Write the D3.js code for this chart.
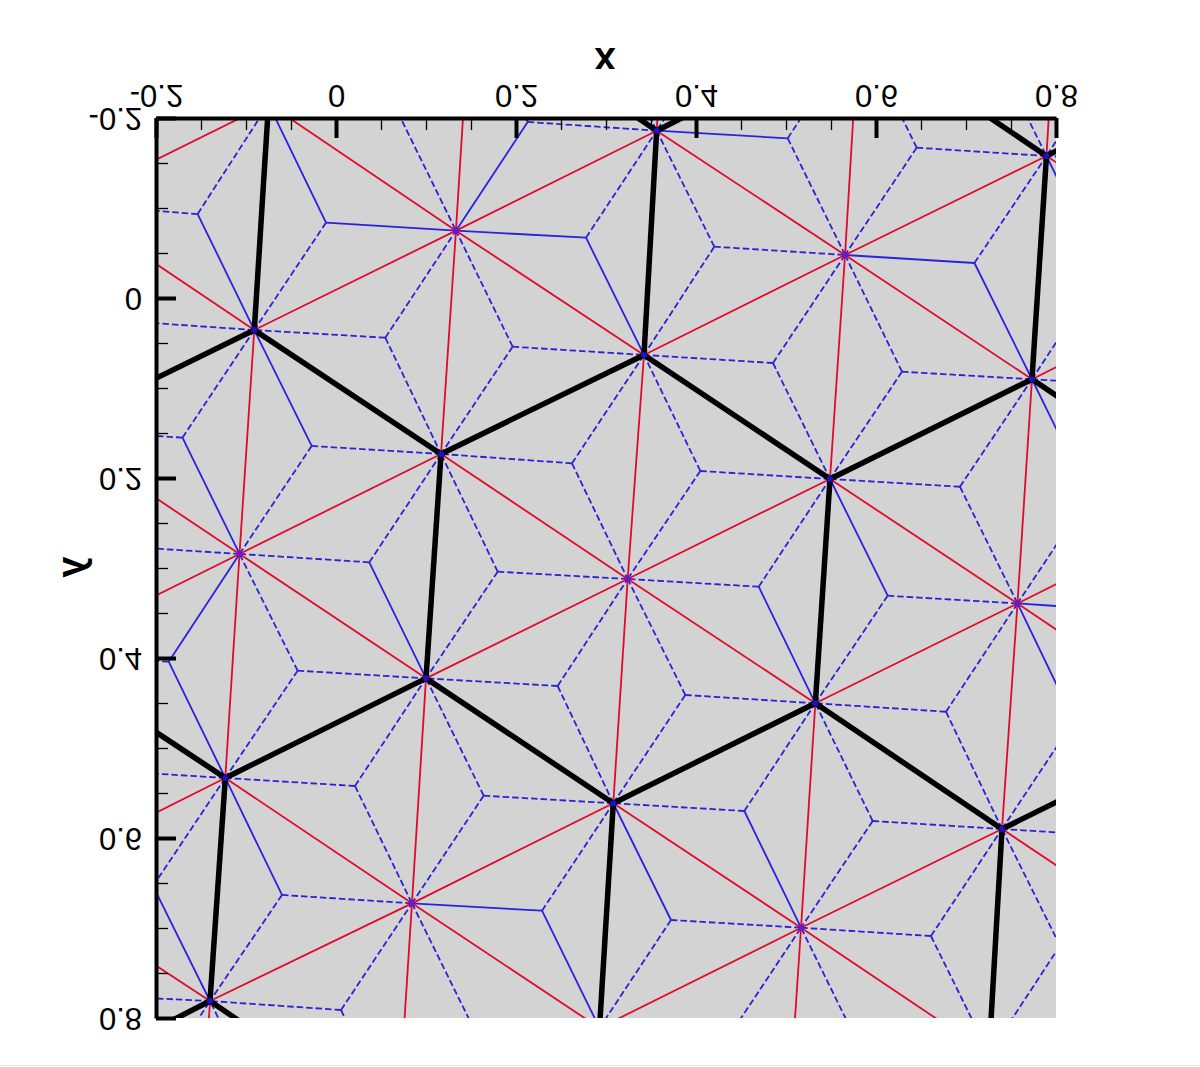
<!DOCTYPE html>
<html>
<head>
<meta charset="utf-8">
<script src="https://cdn.jsdelivr.net/npm/d3@7"></script>
<style>
  html, body { margin: 0; padding: 0; background: #fff; }
  svg { display: block; }
  text { font-family: "Liberation Sans", Arial, sans-serif; fill: #000; }
</style>
</head>
<body>
<div id="chart"></div>
<script>
var width = 1200, height = 1067;

// tick values and labels
var majorTicks = [-0.2, 0, 0.2, 0.4, 0.6, 0.8];
var tickLabels = ["-0.2", "0", "0.2", "0.4", "0.6", "0.8"];
var minorTicks = [-0.15, -0.1, -0.05, 0.05, 0.1, 0.15, 0.25, 0.3, 0.35, 0.45, 0.5, 0.55, 0.65, 0.7, 0.75];

// mesh vertices (some sit outside the frame and get clipped)
var nodes = {
  n00: [-0.0908, 0.0356], n01: [0.1333, -0.0748], n02: [0.3563, -0.1859], n03: [0.5806, -0.2989],
  n04: [0.8044, -0.41], n10: [0.1167, 0.1733], n11: [0.3422, 0.0633], n12: [0.5656, -0.0478],
  n13: [0.7894, -0.1578], n14: [1.0122, -0.2711], n20: [0.3241, 0.3122], n21: [0.5489, 0.2011],
  n22: [0.7733, 0.0903], n23: [0.9961, -0.0211], n30: [0.5326, 0.4503], n31: [0.7572, 0.3394],
  n32: [0.98, 0.2289], n40: [0.74, 0.59], n41: [0.9639, 0.4789], n50: [0.9478, 0.7289],
  n0m1: [-0.315, 0.1456], n1m1: [-0.1072, 0.2844], n2m1: [0.1, 0.4226], n3m1: [0.3081, 0.5614],
  n4m1: [0.5167, 0.6997], n5m1: [0.7256, 0.84], n1m2: [-0.3311, 0.3956], n2m2: [-0.123, 0.5333],
  n3m2: [0.0844, 0.6726], n4m2: [0.2928, 0.8111], n5m2: [0.5, 0.9511], n2m3: [-0.3472, 0.6456],
  n3m3: [-0.14, 0.7811], n4m3: [0.0683, 0.9233], n3m4: [-0.3633, 0.8956], n4m4: [-0.1556, 1.0344],
  nm10: [-0.2989, -0.1044], nm11: [-0.075, -0.2156], nm12: [0.1489, -0.3267], nm13: [0.3728, -0.4378]
};

// vertices shown in the plot, these get the small dot
var shownNodes = ["n00", "n01", "n02", "n10", "n11", "n12", "n13", "n20", "n21", "n22", "n30", "n31",
  "n40", "n1m1", "n2m1", "n3m1", "n4m1", "n2m2", "n3m2", "n3m3"];
var hubNodes = ["n01", "n12", "n1m1", "n20", "n31", "n3m2", "n4m1"];

// dual cell centres
var centres = {
  c1: [-0.1537, -0.0933], c2: [-0.0111, -0.0837], c3: [0.0548, 0.0441], c4: [0.1963, 0.0541],
  c5: [0.2778, -0.067], c6: [0.213, -0.1956], c7: [0.0689, -0.2059], c8: [-0.027, 0.1644],
  c9: [-0.1706, 0.1552], c10: [0.037, 0.2937], c11: [0.1797, 0.3041], c12: [0.2622, 0.1837],
  c13: [0.4048, 0.1922], c14: [0.4856, 0.0722], c15: [0.6289, 0.0819], c16: [0.4203, -0.057],
  c17: [0.7094, -0.0389], c18: [0.5019, -0.1774], c19: [0.6452, -0.167], c20: [0.4367, -0.3078],
  c21: [0.2933, -0.3167], c22: [0.7244, -0.2889], c23: [0.8689, -0.28], c24: [0.9322, -0.15],
  c25: [0.8522, -0.03], c26: [0.9167, 0.0989], c27: [0.8367, 0.2197], c28: [0.6933, 0.2097],
  c29: [0.613, 0.3308], c30: [0.4697, 0.3208], c31: [0.3881, 0.4411], c32: [0.2463, 0.4311],
  c33: [0.1641, 0.553], c34: [0.0211, 0.5422], c35: [-0.0426, 0.4141], c36: [-0.1859, 0.4041],
  c37: [-0.2672, 0.5244], c38: [-0.2033, 0.6533], c39: [-0.06, 0.6633], c40: [0.0056, 0.7911],
  c41: [0.1483, 0.8022], c42: [0.2289, 0.6808], c43: [0.3722, 0.6911], c44: [0.4537, 0.57],
  c45: [0.5963, 0.5811], c46: [0.6778, 0.4597], c47: [0.82, 0.4697], c48: [0.9, 0.3489],
  c49: [0.8833, 0.5989], c50: [0.8044, 0.7197], c51: [0.6611, 0.7089], c52: [0.5808, 0.83],
  c53: [0.4363, 0.8208], c54: [-0.2833, 0.7744], c55: [-0.22, 0.9033], c56: [-0.0756, 0.9133],
  c57: [-0.2511, 0.2752], c58: [-0.235, 0.0256]
};

var blackEdges = [
  ["n00", "n10"], ["n00", "nm11"], ["n00", "n0m1"], ["n10", "n11"], ["n10", "n2m1"], ["n11", "n02"],
  ["n11", "n21"], ["n21", "n22"], ["n21", "n30"], ["n22", "n13"], ["n22", "n32"], ["n30", "n40"],
  ["n30", "n3m1"], ["n2m1", "n3m1"], ["n2m1", "n2m2"], ["n2m2", "n1m2"], ["n2m2", "n3m3"],
  ["n3m3", "n3m4"], ["n3m3", "n4m3"], ["n3m1", "n4m2"], ["n40", "n5m1"], ["n40", "n41"],
  ["n02", "nm12"], ["n02", "n03"], ["n13", "n03"], ["n13", "n14"]
];

var redEdges = [
  ["n01", "n11"], ["n01", "n02"], ["n01", "nm12"], ["n01", "nm11"], ["n01", "n00"], ["n01", "n10"],
  ["n12", "n22"], ["n12", "n13"], ["n12", "n03"], ["n12", "n02"], ["n12", "n11"], ["n12", "n21"],
  ["n1m1", "n2m1"], ["n1m1", "n10"], ["n1m1", "n00"], ["n1m1", "n0m1"], ["n1m1", "n1m2"], ["n1m1", "n2m2"],
  ["n20", "n30"], ["n20", "n21"], ["n20", "n11"], ["n20", "n10"], ["n20", "n2m1"], ["n20", "n3m1"],
  ["n31", "n41"], ["n31", "n32"], ["n31", "n22"], ["n31", "n21"], ["n31", "n30"], ["n31", "n40"],
  ["n3m2", "n4m2"], ["n3m2", "n3m1"], ["n3m2", "n2m1"], ["n3m2", "n2m2"], ["n3m2", "n3m3"], ["n3m2", "n4m3"],
  ["n4m1", "n5m1"], ["n4m1", "n40"], ["n4m1", "n30"], ["n4m1", "n3m1"], ["n4m1", "n4m2"], ["n4m1", "n5m2"],
  ["nm10", "n00"], ["nm10", "nm11"], ["nm13", "n02"], ["n04", "n13"], ["n23", "n13"], ["n23", "n22"],
  ["n2m3", "n3m3"], ["n2m3", "n2m2"], ["n50", "n40"], ["n4m4", "n3m3"]
];

var solidSpokes = [
  ["c1", "n00"], ["c2", "nm11"], ["c2", "n01"], ["c5", "n01"], ["c5", "n11"], ["c6", "n01"],
  ["c8", "n00"], ["c9", "n1m1"], ["c10", "n2m1"], ["c17", "n12"], ["c17", "n22"], ["c18", "n02"],
  ["c25", "n13"], ["c27", "n22"], ["c29", "n21"], ["c30", "n30"], ["c36", "n1m1"], ["c36", "n2m2"],
  ["c38", "n3m3"], ["c39", "n2m2"], ["c42", "n3m2"], ["c42", "n4m2"], ["c43", "n3m1"], ["c44", "n4m1"],
  ["c47", "n31"], ["c48", "n31"]
];

var dashedSpokes = [
  ["c1", "nm10"], ["c1", "nm11"], ["c2", "n00"], ["c3", "n00"], ["c3", "n01"], ["c3", "n10"],
  ["c4", "n01"], ["c4", "n10"], ["c4", "n11"], ["c5", "n02"], ["c6", "n02"], ["c6", "nm12"],
  ["c7", "n01"], ["c8", "n10"], ["c8", "n1m1"], ["c9", "n00"], ["c9", "n0m1"], ["c10", "n1m1"],
  ["c10", "n10"], ["c11", "n10"], ["c11", "n2m1"], ["c11", "n20"], ["c12", "n10"], ["c12", "n11"],
  ["c12", "n20"], ["c13", "n11"], ["c13", "n21"], ["c13", "n20"], ["c14", "n11"], ["c14", "n12"],
  ["c14", "n21"], ["c15", "n12"], ["c15", "n22"], ["c15", "n21"], ["c16", "n02"], ["c16", "n11"],
  ["c16", "n12"], ["c17", "n13"], ["c18", "n12"], ["c18", "n03"], ["c19", "n12"], ["c19", "n13"],
  ["c19", "n03"], ["c20", "n02"], ["c21", "n02"], ["c22", "n13"], ["c23", "n13"], ["c24", "n13"],
  ["c25", "n22"], ["c26", "n22"], ["c27", "n31"], ["c28", "n21"], ["c28", "n22"], ["c28", "n31"],
  ["c29", "n31"], ["c29", "n30"], ["c30", "n20"], ["c30", "n21"], ["c31", "n20"], ["c31", "n30"],
  ["c31", "n3m1"], ["c32", "n2m1"], ["c32", "n20"], ["c32", "n3m1"], ["c33", "n3m1"], ["c33", "n3m2"],
  ["c33", "n2m1"], ["c34", "n2m2"], ["c34", "n2m1"], ["c34", "n3m2"], ["c35", "n1m1"], ["c35", "n2m1"],
  ["c35", "n2m2"], ["c36", "n1m2"], ["c37", "n2m2"], ["c38", "n2m2"], ["c39", "n3m2"], ["c39", "n3m3"],
  ["c40", "n3m3"], ["c40", "n3m2"], ["c40", "n4m3"], ["c41", "n3m2"], ["c42", "n3m1"], ["c43", "n4m1"],
  ["c43", "n4m2"], ["c44", "n3m1"], ["c44", "n30"], ["c45", "n40"], ["c45", "n30"], ["c45", "n4m1"],
  ["c46", "n30"], ["c46", "n31"], ["c46", "n40"], ["c47", "n40"], ["c49", "n40"], ["c50", "n40"],
  ["c50", "n5m1"], ["c51", "n4m1"], ["c51", "n40"], ["c51", "n5m1"], ["c52", "n4m1"], ["c53", "n4m1"],
  ["c54", "n3m3"], ["c55", "n3m3"], ["c56", "n3m3"], ["c57", "n1m1"], ["c58", "n00"]
];

var svg = d3.select("#chart").append("svg")
    .attr("width", width)
    .attr("height", height);

var x = d3.scaleLinear().domain([-0.2, 0.8]).range([156, 1056]);
var y = d3.scaleLinear().domain([-0.2, 0.8]).range([118, 1018]);

function pos(name) {
    return nodes[name] || centres[name];
}

// faint page edge at the bottom of the picture
svg.append("line")
    .attr("x1", 0).attr("x2", width)
    .attr("y1", 1065.5).attr("y2", 1065.5)
    .attr("stroke", "#e2e2e2");

svg.append("clipPath").attr("id", "plotClip")
    .append("rect")
    .attr("x", x(-0.2)).attr("y", y(-0.2))
    .attr("width", x(0.8) - x(-0.2)).attr("height", y(0.8) - y(-0.2));

svg.append("rect")
    .attr("x", x(-0.2)).attr("y", y(-0.2))
    .attr("width", x(0.8) - x(-0.2)).attr("height", y(0.8) - y(-0.2))
    .attr("fill", "#d3d3d3");

var plot = svg.append("g").attr("clip-path", "url(#plotClip)");

function drawLines(data, color, lineWidth, dash) {
    plot.append("g").selectAll("line")
        .data(data)
        .enter().append("line")
        .attr("x1", function (d) { return x(pos(d[0])[0]); })
        .attr("y1", function (d) { return y(pos(d[0])[1]); })
        .attr("x2", function (d) { return x(pos(d[1])[0]); })
        .attr("y2", function (d) { return y(pos(d[1])[1]); })
        .attr("stroke", color)
        .attr("stroke-width", lineWidth)
        .attr("stroke-dasharray", dash);
}

drawLines(dashedSpokes, "#2a22d8", 1.8, "6.5,3");
drawLines(solidSpokes, "#2a22e0", 1.8, null);
drawLines(redEdges, "#e00a2c", 1.8, null);
drawLines(blackEdges, "#000", 5.5, null);

plot.append("g").selectAll("circle")
    .data(shownNodes)
    .enter().append("circle")
    .attr("cx", function (d) { return x(nodes[d][0]); })
    .attr("cy", function (d) { return y(nodes[d][1]); })
    .attr("r", 3)
    .attr("fill", function (d) { return hubNodes.indexOf(d) >= 0 ? "#6a1ac0" : "#1414d0"; });

// axes, the whole picture is mirrored top to bottom so the labels get flipped too
var xMinor = d3.axisTop(x).tickValues(minorTicks).tickSizeInner(-12).tickSizeOuter(0).tickFormat("");
var yMinor = d3.axisLeft(y).tickValues(minorTicks).tickSizeInner(-12).tickSizeOuter(0).tickFormat("");
var xMajor = d3.axisTop(x).tickValues(majorTicks).tickSizeInner(-20).tickSizeOuter(0)
    .tickFormat(function (d, i) { return tickLabels[i]; });
var yMajor = d3.axisLeft(y).tickValues(majorTicks).tickSizeInner(-20).tickSizeOuter(0)
    .tickFormat(function (d, i) { return tickLabels[i]; });

function styleMinor(g) {
    g.select(".domain").remove();
    g.selectAll("line").attr("stroke", "#000").attr("stroke-width", 1.3);
}

function styleMajor(g) {
    g.select(".domain").attr("stroke", "#000").attr("stroke-width", 4);
    g.selectAll("line").attr("stroke", "#000").attr("stroke-width", 4);
    g.selectAll("text").attr("font-size", 31).attr("font-family", "'Liberation Sans', Arial, sans-serif");
}

svg.append("g").attr("transform", "translate(0,118)").call(xMinor).call(styleMinor);
svg.append("g").attr("transform", "translate(156,0)").call(yMinor).call(styleMinor);

svg.append("g").attr("transform", "translate(0,118)").call(xMajor).call(styleMajor)
    .selectAll("text")
    .attr("y", 0).attr("dy", 0)
    .attr("text-anchor", "middle")
    .attr("transform", "translate(0,-33) scale(1,-1)");

svg.append("g").attr("transform", "translate(156,0)").call(yMajor).call(styleMajor)
    .selectAll("text")
    .attr("x", 0).attr("y", 0).attr("dy", 0)
    .attr("text-anchor", "end")
    .attr("transform", "translate(-14,-11) scale(1,-1)");

svg.append("text")
    .attr("transform", "translate(605,48) scale(1,-1)")
    .attr("text-anchor", "middle")
    .attr("font-size", 38)
    .attr("font-weight", "bold")
    .text("x");

svg.append("text")
    .attr("transform", "translate(84,567) scale(1,-1) rotate(-90)")
    .attr("text-anchor", "middle")
    .attr("font-size", 38)
    .attr("font-weight", "bold")
    .text("y");
</script>
</body>
</html>
